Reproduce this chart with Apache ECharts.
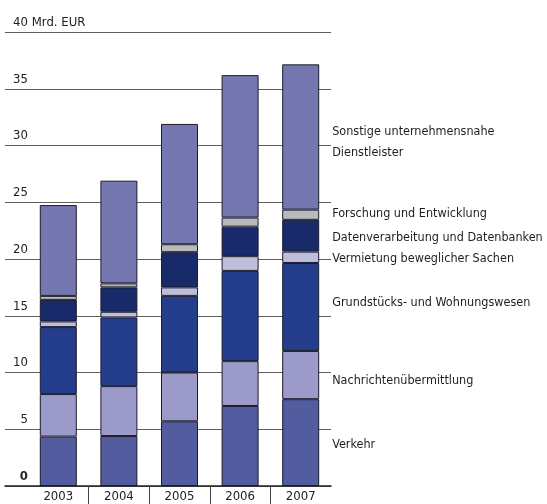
<!DOCTYPE html>
<html>
<head>
<meta charset="utf-8">
<script src="https://cdn.jsdelivr.net/npm/echarts@6/dist/echarts.min.js"></script>
<style>
  html, body { margin: 0; padding: 0; background: #fff; }
  #chart { width: 547px; height: 504px; }
</style>
</head>
<body>
<div id="chart"></div>
<script>
// Daten (Mrd. EUR)
const years = ['2003', '2004', '2005', '2006', '2007']
const verkehr = [4.35, 4.4, 5.7, 7.05, 7.65]
const nachrichten = [3.75, 4.4, 4.3, 3.95, 4.25]
const grundstuecke = [5.9, 6.05, 6.75, 7.95, 7.75]
const vermietung = [0.5, 0.5, 0.75, 1.3, 1.0]
const datenverarbeitung = [1.9, 2.15, 3.1, 2.6, 2.8]
const forschung = [0.35, 0.35, 0.7, 0.8, 0.9]
const sonstige = [8.0, 9.05, 10.6, 12.55, 12.8]
const yTicks = [0, 5, 10, 15, 20, 25, 30, 35, 40]

const font = "'DejaVu Sans Condensed', 'Liberation Sans Narrow', sans-serif"
const chart = echarts.init(document.getElementById('chart'))

// Balken + Beschriftung rechts am letzten Balken
const makeSeries = (name, values, color, offsetY) => ({
  name: name,
  type: 'bar',
  stack: 'total',
  xAxisIndex: 0,
  yAxisIndex: 0,
  barWidth: 37,
  itemStyle: { color: color, borderColor: '#1c1c2a', borderWidth: 1 },
  label: {
    show: false,
    position: 'right',
    distance: 13,
    offset: [0, offsetY],
    formatter: name,
    color: '#1e1e1e',
    fontSize: 12.5,
    lineHeight: 21,
    fontFamily: font
  },
  data: values.map((v, i) => i === values.length - 1 ? { value: v, label: { show: true } } : v)
})

const option = {
  animation: false,
  grid: [
    { left: 28, right: 216, top: 32, bottom: 18 },
    { left: 5, right: 216, top: 32, bottom: 18 }
  ],
  xAxis: [
    {
      type: 'category',
      gridIndex: 0,
      data: years,
      axisLine: { show: false },
      axisTick: { show: false },
      axisLabel: { margin: 4, fontSize: 13, color: '#222', fontFamily: font }
    },
    {
      type: 'value',
      gridIndex: 1,
      min: -0.88,
      max: 4.5,
      axisLine: { show: true, onZero: false, lineStyle: { color: '#222', width: 1.5 } },
      axisTick: { show: true, length: 18, customValues: [0.5, 1.5, 2.5, 3.5], lineStyle: { color: '#444' } },
      axisLabel: { show: false },
      splitLine: { show: false }
    }
  ],
  yAxis: [
    {
      type: 'value',
      gridIndex: 0,
      min: 0,
      max: 40,
      show: false
    },
    {
      type: 'value',
      gridIndex: 1,
      min: 0,
      max: 40,
      interval: 5,
      axisLine: { show: false },
      axisTick: { show: false },
      axisLabel: {
        inside: true,
        margin: 8,
        align: 'left',
        verticalAlign: 'bottom',
        padding: [0, 0, 3, 0],
        fontSize: 13,
        color: '#222',
        fontFamily: font,
        formatter: (v) => {
          if (v === 0) return '{z|0}'
          if (v === yTicks[yTicks.length - 1]) return '{n|' + v + '} Mrd. EUR'
          return '{n|' + v + '}'
        },
        rich: {
          n: { width: 15, align: 'right', fontSize: 13, fontFamily: font, color: '#222' },
          z: { width: 15, align: 'right', fontWeight: 'bold', fontSize: 13, fontFamily: font, color: '#222' }
        }
      },
      splitLine: { show: true, lineStyle: { color: '#5e5e5e', width: 1 } }
    }
  ],
  series: [
    makeSeries('Verkehr', verkehr, '#525c9f', 2),
    makeSeries('Nachrichtenübermittlung', nachrichten, '#9b9ac9', 6),
    makeSeries('Grundstücks- und Wohnungswesen', grundstuecke, '#243e8c', -4),
    makeSeries('Vermietung beweglicher Sachen', vermietung, '#bebddc', 1.5),
    makeSeries('Datenverarbeitung und Datenbanken', datenverarbeitung, '#182a6a', 2),
    makeSeries('Forschung und Entwicklung', forschung, '#b9babd', -1),
    makeSeries('Sonstige unternehmensnahe\nDienstleister', sonstige, '#7578b0', 5)
  ]
}

chart.setOption(option)
</script>
</body>
</html>
